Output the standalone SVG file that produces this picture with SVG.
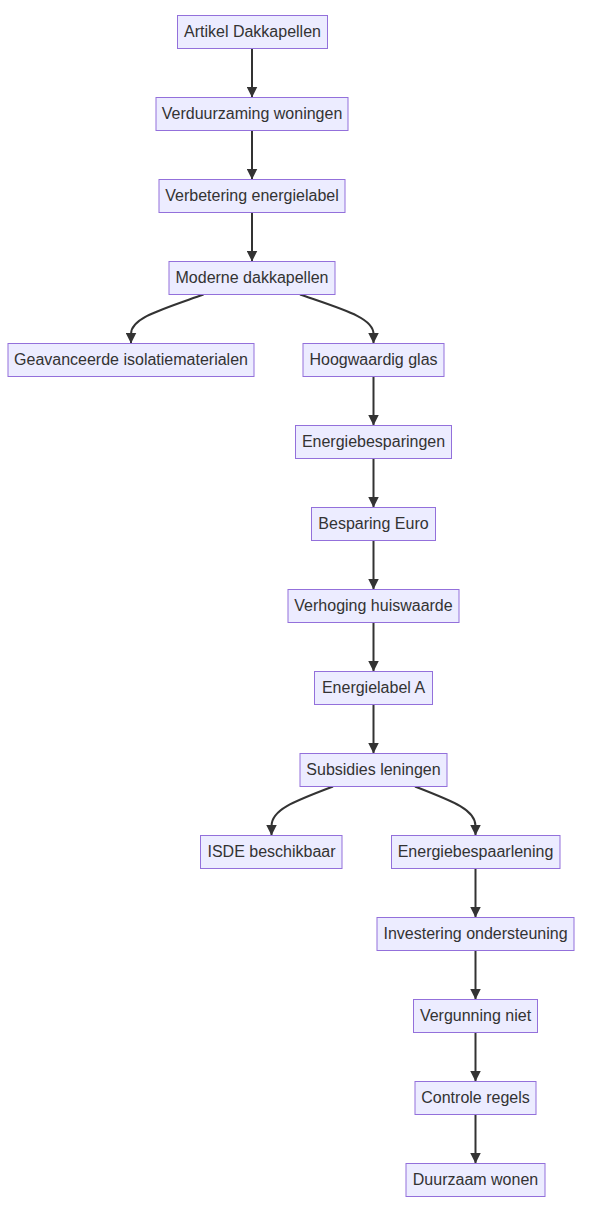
<svg xmlns="http://www.w3.org/2000/svg" width="590" height="1211" viewBox="0 0 590 1211">
<defs>
<style>
.n rect{fill:#ECECFF;stroke:#9370DB;stroke-width:1}
.n text{font-family:"Liberation Sans",Arial,sans-serif;font-size:16px;fill:#333;text-anchor:middle}
.e path{fill:none;stroke:#333;stroke-width:2;marker-end:url(#arr)}
</style>
<marker id="arr" viewBox="0 0 10 10" refX="10" refY="5" markerWidth="11" markerHeight="11" markerUnits="userSpaceOnUse" orient="auto">
<path d="M0,0 L10,5 L0,10 z" fill="#333"/>
</marker>
</defs>
<rect width="590" height="1211" fill="#fff"/>
<g id="edges" class="e">
<path d="M252,48.5 L252,97.5"/>
<path d="M252,130.5 L252,179.5"/>
<path d="M252,212.5 L252,261.5"/>
<path d="M203.5,294.5 C160,310 131,318 131,334 L131,343.5"/>
<path d="M300,294.5 C345,310 373.5,318 373.5,334 L373.5,343.5"/>
<path d="M373.5,376.5 L373.5,425.5"/>
<path d="M373.5,458.5 L373.5,507.5"/>
<path d="M373.5,540.5 L373.5,589.5"/>
<path d="M373.5,622.5 L373.5,671.5"/>
<path d="M373.5,704.5 L373.5,753.5"/>
<path d="M333,786.5 C292,802 271.5,810 271.5,826 L271.5,835.5"/>
<path d="M415,786.5 C455,802 475.5,810 475.5,826 L475.5,835.5"/>
<path d="M475.5,868.5 L475.5,917.5"/>
<path d="M475.5,950.5 L475.5,999.5"/>
<path d="M475.5,1032.5 L475.5,1081.5"/>
<path d="M475.5,1114.5 L475.5,1163.5"/>
</g>
<g id="n1" class="n"><rect x="177.5" y="15.5" width="150" height="33"/><text x="252.5" y="37">Artikel Dakkapellen</text></g>
<g id="n2" class="n"><rect x="156" y="97.5" width="192" height="33"/><text x="252" y="119">Verduurzaming woningen</text></g>
<g id="n3" class="n"><rect x="159" y="179.5" width="186" height="33"/><text x="252" y="201">Verbetering energielabel</text></g>
<g id="n4" class="n"><rect x="169" y="261.5" width="166" height="33"/><text x="252" y="283">Moderne dakkapellen</text></g>
<g id="n5" class="n"><rect x="8" y="343.5" width="246" height="33"/><text x="131" y="365">Geavanceerde isolatiematerialen</text></g>
<g id="n6" class="n"><rect x="303" y="343.5" width="141" height="33"/><text x="373.5" y="365">Hoogwaardig glas</text></g>
<g id="n7" class="n"><rect x="295.5" y="425.5" width="156" height="33"/><text x="373.5" y="447">Energiebesparingen</text></g>
<g id="n8" class="n"><rect x="311.5" y="507.5" width="124" height="33"/><text x="373.5" y="529">Besparing Euro</text></g>
<g id="n9" class="n"><rect x="288" y="589.5" width="171" height="33"/><text x="373.5" y="611">Verhoging huiswaarde</text></g>
<g id="n10" class="n"><rect x="314.5" y="671.5" width="118" height="33"/><text x="373.5" y="693">Energielabel A</text></g>
<g id="n11" class="n"><rect x="300" y="753.5" width="147" height="33"/><text x="373.5" y="775">Subsidies leningen</text></g>
<g id="n12" class="n"><rect x="200.5" y="835.5" width="141.5" height="33"/><text x="271.5" y="857">ISDE beschikbaar</text></g>
<g id="n13" class="n"><rect x="391.5" y="835.5" width="168.5" height="33"/><text x="475.5" y="857">Energiebespaarlening</text></g>
<g id="n14" class="n"><rect x="377" y="917.5" width="197" height="33"/><text x="475.5" y="939">Investering ondersteuning</text></g>
<g id="n15" class="n"><rect x="413.5" y="999.5" width="124" height="33"/><text x="475.5" y="1021">Vergunning niet</text></g>
<g id="n16" class="n"><rect x="415" y="1081.5" width="121" height="33"/><text x="475.5" y="1103">Controle regels</text></g>
<g id="n17" class="n"><rect x="406" y="1163.5" width="139" height="33"/><text x="475.5" y="1185">Duurzaam wonen</text></g>
</svg>
